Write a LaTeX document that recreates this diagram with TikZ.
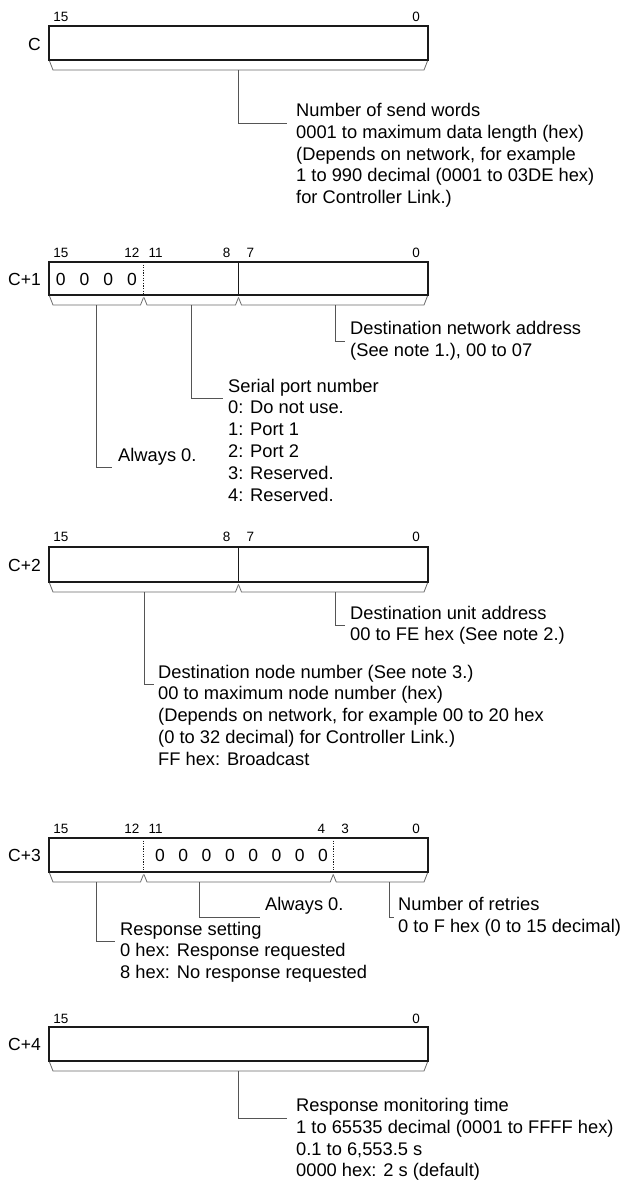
\documentclass[tikz,border=0pt]{standalone}
\usepackage{fontspec}
\setmainfont{Liberation Sans}
\definecolor{brkgray}{HTML}{6A6A6A}
\definecolor{conngray}{HTML}{555555}
\definecolor{boxline}{HTML}{1A1A1A}
\newcommand{\fsdesc}{\fontsize{18.3}{21.8}\selectfont}
\newcommand{\fsbit}{\fontsize{13.5}{15}\selectfont}
\newcommand{\fsword}{\fontsize{17.5}{19}\selectfont}
\newcommand{\tblock}[1]{\vtop{\baselineskip=21.8pt\lineskiplimit=-100pt\lineskip=0pt #1}}
\begin{document}
\begin{tikzpicture}[x=1pt,y=-1pt,
  wbox/.style={draw=boxline, line width=1.6pt},
  divsolid/.style={draw=boxline, line width=0.9pt},
  divdot/.style={draw=boxline, line width=0.9pt, dash pattern=on 1.1pt off 1.5pt},
  brk/.style={draw=brkgray, line width=0.8pt},
  conn/.style={draw=conngray, line width=0.9pt},
  txt/.style={anchor=base west, inner sep=0pt, font=\fsdesc},
  bitlbl/.style={anchor=base, inner sep=0pt, font=\fsbit},
  wlabel/.style={anchor=east, inner sep=0pt, font=\fsword},
  zero/.style={anchor=center, inner sep=0pt, font=\fsword},
]
\useasboundingbox (0,0) rectangle (624,1186);

% ================= C =================
\draw[wbox] (49,26) rectangle (428,60);
\node[wlabel] (wC) at (41,44) {C};
\node[bitlbl] (c0b15) at (60.8,21.8) {15};
\node[bitlbl] (c0b0) at (416.2,21.8) {0};
\draw[brk] (49.5,61) -- (53,70) -- (424,70) -- (427.5,61);
\coordinate (c0s) at (238.5,70);
\node[txt] (c0t) at (296,116.5) {\tblock{%
  \hbox{Number of send words}
  \hbox{0001 to maximum data length (hex)}
  \hbox{(Depends on network, for example}
  \hbox{1 to 990 decimal (0001 to 03DE hex)}
  \hbox{for Controller Link.)}}};
\draw[conn] (c0s) |- ([xshift=-9pt,yshift=-6.5pt]c0t.base west);

% ================= C+1 =================
\draw[wbox] (49,262) rectangle (428,295);
\draw[divdot] (143.75,262) -- (143.75,295);
\draw[divsolid] (238.5,262) -- (238.5,295);
\node[wlabel] (wC1) at (41,279.5) {C+1};
\node[bitlbl] (c1b15) at (60.8,257.8) {15};
\node[bitlbl] (c1b12) at (131.9,257.8) {12};
\node[bitlbl] (c1b11) at (155.6,257.8) {11};
\node[bitlbl] (c1b8) at (226.7,257.8) {8};
\node[bitlbl] (c1b7) at (250.3,257.8) {7};
\node[bitlbl] (c1b0) at (416.2,257.8) {0};
\node[zero] (c1z15) at (60.8,279) {0};
\node[zero] (c1z14) at (84.5,279) {0};
\node[zero] (c1z13) at (108.2,279) {0};
\node[zero] (c1z12) at (131.9,279) {0};
\draw[brk] (49.5,296) -- (53,305) -- (140.5,305) -- (143.5,297.5);
\draw[brk] (144,297.5) -- (147,305) -- (235.5,305) -- (238.5,297.5);
\draw[brk] (238.5,297.5) -- (241.5,305) -- (424,305) -- (427.5,296);
\coordinate (c1sa) at (335,305);
\coordinate (c1sb) at (191.5,305);
\coordinate (c1sc) at (96.5,305);
\node[txt] (c1ta) at (350,334.5) {\tblock{%
  \hbox{Destination network address}
  \hbox{(See note 1.), 00 to 07}}};
\node[txt] (c1tb) at (228,392) {\tblock{%
  \hbox{Serial port number}
  \hbox{0: Do not use.}
  \hbox{1: Port 1}
  \hbox{2: Port 2}
  \hbox{3: Reserved.}
  \hbox{4: Reserved.}}};
\node[txt] (c1tc) at (118,461) {Always 0.};
\draw[conn] (c1sa) |- ([xshift=-5pt,yshift=-6.5pt]c1ta.base west);
\draw[conn] (c1sb) |- ([xshift=-5pt,yshift=-6.5pt]c1tb.base west);
\draw[conn] (c1sc) |- ([xshift=-6pt,yshift=-6.5pt]c1tc.base west);

% ================= C+2 =================
\draw[wbox] (49,547) rectangle (428,582);
\draw[divsolid] (238.5,547) -- (238.5,582);
\node[wlabel] (wC2) at (41,565.5) {C+2};
\node[bitlbl] (c2b15) at (60.8,541.8) {15};
\node[bitlbl] (c2b8) at (226.7,541.8) {8};
\node[bitlbl] (c2b7) at (250.3,541.8) {7};
\node[bitlbl] (c2b0) at (416.2,541.8) {0};
\draw[brk] (49.5,583) -- (53,592) -- (235.5,592) -- (238.5,584.5);
\draw[brk] (238.5,584.5) -- (241.5,592) -- (424,592) -- (427.5,583);
\coordinate (c2sa) at (335,592);
\coordinate (c2sb) at (144,592);
\node[txt] (c2ta) at (350,619) {\tblock{%
  \hbox{Destination unit address}
  \hbox{00 to FE hex (See note 2.)}}};
\node[txt] (c2tb) at (158,678) {\tblock{%
  \hbox{Destination node number (See note 3.)}
  \hbox{00 to maximum node number (hex)}
  \hbox{(Depends on network, for example 00 to 20 hex}
  \hbox{(0 to 32 decimal) for Controller Link.)}
  \hbox{FF hex: Broadcast}}};
\draw[conn] (c2sa) |- ([xshift=-5pt,yshift=-6.5pt]c2ta.base west);
\draw[conn] (c2sb) |- ([xshift=-4pt,yshift=-6.5pt]c2tb.base west);

% ================= C+3 =================
\draw[wbox] (49,838) rectangle (428,872);
\draw[divdot] (143.75,838) -- (143.75,872);
\draw[divdot] (333.25,838) -- (333.25,872);
\node[wlabel] (wC3) at (41,855.5) {C+3};
\node[bitlbl] (c3b15) at (60.8,833) {15};
\node[bitlbl] (c3b12) at (131.9,833) {12};
\node[bitlbl] (c3b11) at (155.6,833) {11};
\node[bitlbl] (c3b4) at (321.4,833) {4};
\node[bitlbl] (c3b3) at (345.1,833) {3};
\node[bitlbl] (c3b0) at (416.2,833) {0};
\node[zero] (c3z11) at (160,855) {0};
\node[zero] (c3z10) at (183.3,855) {0};
\node[zero] (c3z9) at (206.6,855) {0};
\node[zero] (c3z8) at (229.9,855) {0};
\node[zero] (c3z7) at (253.2,855) {0};
\node[zero] (c3z6) at (276.5,855) {0};
\node[zero] (c3z5) at (299.8,855) {0};
\node[zero] (c3z4) at (323.1,855) {0};
\draw[brk] (49.5,873) -- (53,882) -- (140.5,882) -- (143.5,874.5);
\draw[brk] (144,874.5) -- (147,882) -- (330.25,882) -- (333.25,874.5);
\draw[brk] (333.25,874.5) -- (336.25,882) -- (424,882) -- (427.5,873);
\coordinate (c3sa) at (199,882);
\coordinate (c3sb) at (389,882);
\coordinate (c3sc) at (96.5,882);
\node[txt] (c3ta) at (265,910.5) {Always 0.};
\node[txt] (c3tb) at (398,910.5) {\tblock{%
  \hbox{Number of retries}
  \hbox{0 to F hex (0 to 15 decimal)}}};
\node[txt] (c3tc) at (120,935) {\tblock{%
  \hbox{Response setting}
  \hbox{0 hex: Response requested}
  \hbox{8 hex: No response requested}}};
\draw[conn] (c3sa) |- ([xshift=-5pt,yshift=-6.5pt]c3ta.base west);
\draw[conn] (c3sb) |- ([xshift=-4pt,yshift=-6.5pt]c3tb.base west);
\draw[conn] (c3sc) |- ([xshift=-5pt,yshift=-6.5pt]c3tc.base west);

% ================= C+4 =================
\draw[wbox] (49,1027) rectangle (428,1061);
\node[wlabel] (wC4) at (41,1044.5) {C+4};
\node[bitlbl] (c4b15) at (60.8,1023) {15};
\node[bitlbl] (c4b0) at (416.2,1023) {0};
\draw[brk] (49.5,1062) -- (53,1071) -- (424,1071) -- (427.5,1062);
\coordinate (c4s) at (238.5,1071);
\node[txt] (c4t) at (296,1111.5) {\tblock{%
  \hbox{Response monitoring time}
  \hbox{1 to 65535 decimal (0001 to FFFF hex)}
  \hbox{0.1 to 6,553.5 s}
  \hbox{0000 hex: 2 s (default)}}};
\draw[conn] (c4s) |- ([xshift=-9pt,yshift=-6.5pt]c4t.base west);
\end{tikzpicture}
\end{document}
